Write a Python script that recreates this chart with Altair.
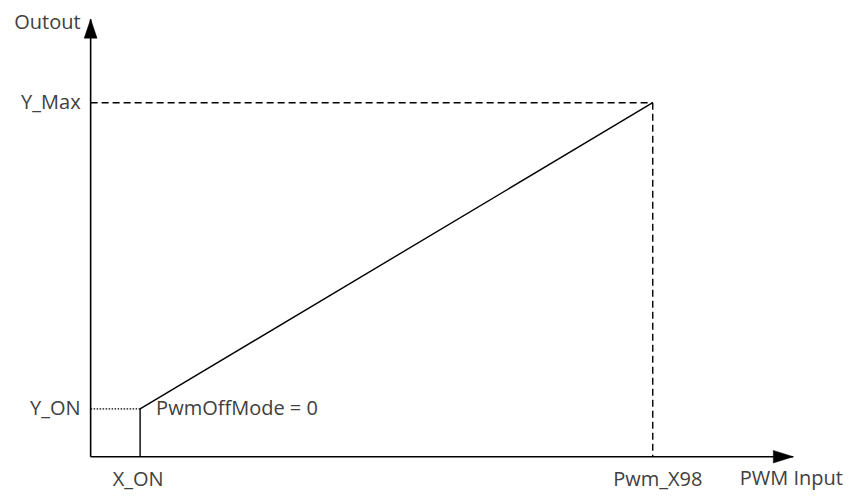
import altair as alt
import pandas as pd

# Key values (abstract units: origin at 0)
X_ON = 8.8
PWM_X98 = 100.0
Y_ON = 13.5
Y_MAX = 100.0
X_AXIS_END = 125.0
Y_AXIS_END = 123.6

X_DOMAIN = [-14.7, 134.2]
Y_DOMAIN = [-9.69, 126.75]

xs = alt.Scale(domain=X_DOMAIN, nice=False, zero=False)
ys = alt.Scale(domain=Y_DOMAIN, nice=False, zero=False)

def seg(rows):
    return pd.DataFrame(rows, columns=["x", "y", "x2", "y2"])

axes_df = seg([[0, 0, X_AXIS_END, 0], [0, 0, 0, Y_AXIS_END]])
solid_df = seg([[X_ON, Y_ON, PWM_X98, Y_MAX], [X_ON, 0, X_ON, Y_ON]])
dashed_df = seg([[0, Y_MAX, PWM_X98, Y_MAX], [PWM_X98, Y_MAX, PWM_X98, 0]])
dotted_df = seg([[0, Y_ON, X_ON, Y_ON]])

def rules(df, width, dash=None):
    kw = dict(color="black", strokeWidth=width)
    if dash:
        kw["strokeDash"] = dash
    return alt.Chart(df).mark_rule(**kw).encode(
        x=alt.X("x:Q", scale=xs, axis=None),
        y=alt.Y("y:Q", scale=ys, axis=None),
        x2="x2:Q",
        y2="y2:Q",
    )

axes = rules(axes_df, 1.6)
solid = rules(solid_df, 1.4)
dashed = rules(dashed_df, 1.4, [7, 4])
dotted = rules(dotted_df, 1.2, [1.5, 1.5])

up_df = pd.DataFrame({"x": [0], "y": [Y_AXIS_END]})
right_df = pd.DataFrame({"x": [X_AXIS_END], "y": [0]})

def arrow(df, path, size, dx, dy):
    return alt.Chart(df).mark_point(
        shape=path, size=size, filled=True, fill="black", stroke="black",
        strokeWidth=0.5, opacity=1, xOffset=dx, yOffset=dy,
    ).encode(x=alt.X("x:Q", scale=xs, axis=None), y=alt.Y("y:Q", scale=ys, axis=None))

# centered paths in [-1, 1]
arrow_up = arrow(up_df, "M0,-1L0.68,1L-0.68,1Z", 361, 0, 9.5)
arrow_right = arrow(right_df, "M1,0L-1,-0.63L-1,0.63Z", 400, -10, 0)

FONT = "Open Sans"
FS = 20
TC = "#404040"

def label(text, x, y, align, dx, dy):
    df = pd.DataFrame({"x": [x], "y": [y], "t": [text]})
    return alt.Chart(df).mark_text(
        align=align, baseline="middle", dx=dx, dy=dy, font=FONT, fontSize=FS, color=TC
    ).encode(
        x=alt.X("x:Q", scale=xs, axis=None),
        y=alt.Y("y:Q", scale=ys, axis=None),
        text="t:N",
    )

labels = [
    label("Outout", 0, Y_AXIS_END, "right", -10, 4),
    label("Y_Max", 0, Y_MAX, "right", -10, 0),
    label("Y_ON", 0, Y_ON, "right", -10, 0),
    label("PwmOffMode = 0", X_ON, Y_ON, "left", 16, 0),
    label("X_ON", X_ON, 0, "center", -2, 23),
    label("Pwm_X98", PWM_X98, 0, "center", 5, 23),
    label("PWM Input", X_AXIS_END, 0, "center", -2, 22),
]

chart = alt.layer(axes, solid, dashed, dotted, arrow_up, arrow_right, *labels).properties(
    width=837, height=483, autosize=alt.AutoSizeParams(type="none"), padding=0,
    background="white",
).configure_view(stroke=None)

chart.save("out.html", embed_options={"renderer": "svg", "actions": False})
